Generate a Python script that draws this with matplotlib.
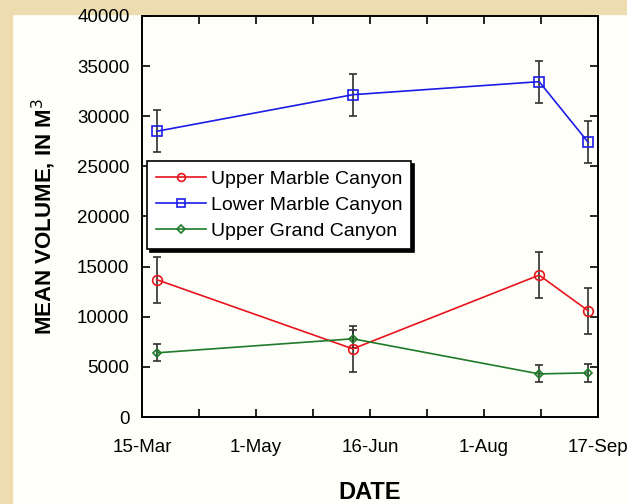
import numpy as np
import matplotlib.pyplot as plt
import matplotlib.dates as mdates
from matplotlib.patches import Rectangle

plt.rcParams['font.family'] = ['Liberation Sans', 'DejaVu Sans']

# sampling dates (year is arbitrary, non-leap)
dates = np.array(['2001-03-21', '2001-06-09', '2001-08-24', '2001-09-13'], dtype='datetime64[D]')

upper_marble = [13700, 6800, 14150, 10600]
upper_marble_err = [2300, 2300, 2300, 2300]
lower_marble = [28500, 32150, 33450, 27400]
lower_marble_err = [2100, 2100, 2100, 2100]
upper_grand = [6400, 7800, 4300, 4400]
upper_grand_err = [850, 900, 850, 900]

series = [
    ("Upper Marble Canyon", upper_marble, upper_marble_err, "#e8141c", "o", 7),
    ("Lower Marble Canyon", lower_marble, lower_marble_err, "#1c1ce8", "s", 7),
    ("Upper Grand Canyon", upper_grand, upper_grand_err, "#1f7a2a", "D", 4.5),
]

tick_start = np.datetime64('2001-03-15')
tick_end = np.datetime64('2001-09-17')
tick_labels = ['15-Mar', '', '1-May', '', '16-Jun', '', '1-Aug', '', '17-Sep']

bg = "#fffffa"
fig = plt.figure(figsize=(6.27, 5.04), dpi=100, facecolor=bg)
# parchment strips on left and top
fig.patches.append(Rectangle((0, 0), 12 / 627, 1, transform=fig.transFigure,
                             color="#ecdcb0", zorder=-1))
fig.patches.append(Rectangle((0, 1 - 14 / 504), 1, 14 / 504, transform=fig.transFigure,
                             color="#ecdcb0", zorder=-1))

ax = fig.add_axes([142 / 627, 1 - 417 / 504, 456 / 627, 401 / 504])
ax.set_facecolor(bg)

xd = mdates.date2num(dates.astype('datetime64[s]').astype(object))
handles = []
for name, vals, err, col, mk, ms in series:
    line, caps, bars = ax.errorbar(xd, vals, yerr=err, color=col, marker=mk, ms=ms,
                                   mfc='none', mec=col, mew=1.2, lw=1.2,
                                   ecolor='#303030', elinewidth=1.2, capsize=3,
                                   capthick=1.5, label=name)
    for c in caps:
        c.set_color(col)
    handles.append(line)

t0 = mdates.date2num(tick_start.astype('datetime64[s]').astype(object))
t1 = mdates.date2num(tick_end.astype('datetime64[s]').astype(object))
ax.set_xlim(t0, t1)
ax.set_xticks(np.linspace(t0, t1, 9))
ax.set_xticklabels(tick_labels)
ax.set_ylim(0, 40000)
ax.set_yticks(np.arange(0, 40001, 5000))

ax.tick_params(direction='in', length=6, width=1.2, top=True, right=True,
               labelsize=13.5, colors='black')
ax.tick_params(axis='x', pad=16)
ax.tick_params(axis='y', pad=9)
for s in ax.spines.values():
    s.set_linewidth(1.4)

ax.set_xlabel('DATE', fontsize=17, fontweight='bold', labelpad=18)
ax.set_ylabel('MEAN VOLUME, IN M$^3$', fontsize=16, fontweight='bold', labelpad=14)

leg = ax.legend(handles=handles, labels=[s[0] for s in series],
                loc='upper left', bbox_to_anchor=(0.011, 0.638), borderaxespad=0,
                fontsize=14, frameon=True, fancybox=False, edgecolor='black',
                framealpha=1, handlelength=2.6, handletextpad=0.25, labelspacing=0.45,
                borderpad=0.45, numpoints=1, markerscale=0.8,
                shadow={'color': 'black', 'alpha': 1})
leg.get_frame().set_linewidth(1.2)

fig.savefig('out.png', dpi=100, facecolor=bg)
